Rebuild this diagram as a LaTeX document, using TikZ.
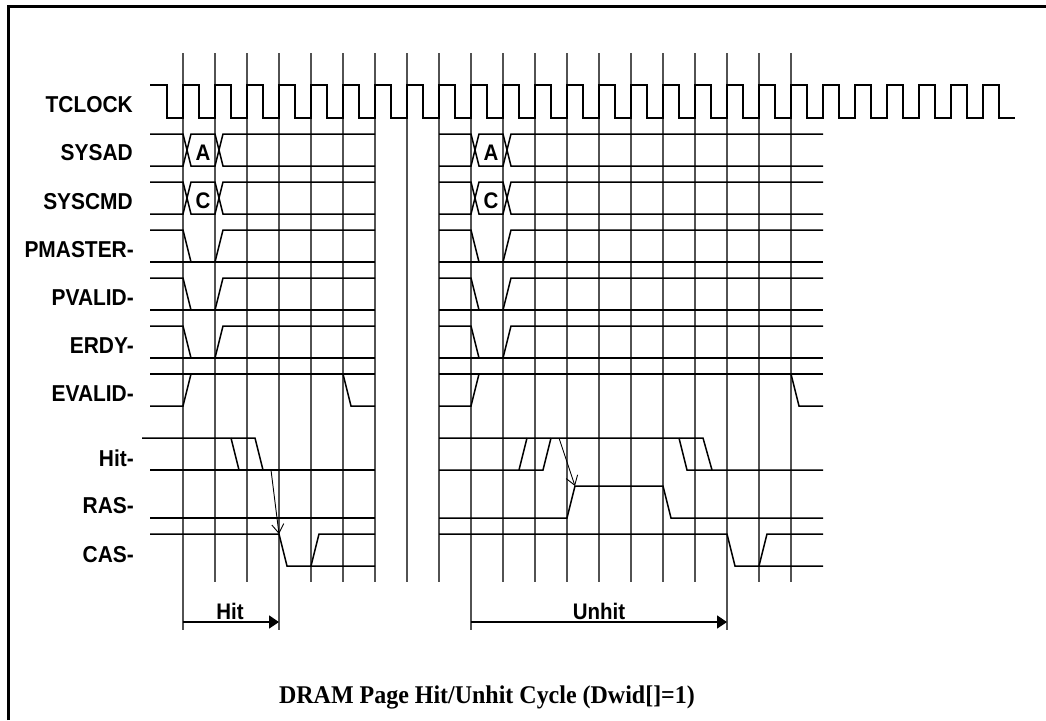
\documentclass[tikz,border=0pt]{standalone}
\usepackage{fontspec}
\setmainfont[FakeStretch=0.94]{Liberation Serif}
\setsansfont[FakeStretch=0.91]{Liberation Sans}
\usepackage{tikz}
\usetikzlibrary{arrows.meta}

\begin{document}
\begin{tikzpicture}[
  x=1pt, y=-1pt,
  every node/.style={align=center},
  gridline/.style={draw=black!68, line width=1.3pt},
  wave/.style={draw=black, line width=1.5pt, line join=miter},
  sigtag/.style={font=\sffamily\bfseries\fontsize{23}{23}\selectfont, anchor=east, inner sep=0pt},
  datatag/.style={font=\sffamily\bfseries\fontsize{22.5}{23}\selectfont, inner sep=0pt},
  cause/.style={draw=black, line width=0.9pt, -{Straight Barb[length=9pt,width=12pt,line width=0.9pt]}},
  span/.style={draw=black, line width=1.5pt, -{Triangle[length=10pt,width=13pt]}}
]
  \useasboundingbox (0,0) rectangle (1046,720);
  \draw[line width=2.6pt] (8.5,720) -- (8.5,6.5) -- (1046,6.5);

  % clock grid
  \foreach \k in {0,...,19} {
    \draw[gridline] ({183+32*\k},53) -- ({183+32*\k},582);
  }
  \draw[gridline] (183,582) -- (183,630);
  \draw[gridline] (279,582) -- (279,630);
  \draw[gridline] (471,582) -- (471,630);
  \draw[gridline] (727,582) -- (727,630);

  % tclock
  \draw[wave] (150,85) -- (167,85)
    \foreach \k in {0,...,25} {
      -- ({167+32*\k},118) -- ({183+32*\k},118) -- ({183+32*\k},85) -- ({199+32*\k},85)
    } -- (999,118) -- (1015,118);

  % signal names
  \node[sigtag] (tclock) at (133,105) {TCLOCK};
  \node[sigtag] (sysad) at (133,153) {SYSAD};
  \node[sigtag] (syscmd) at (133,202) {SYSCMD};
  \node[sigtag] (pmaster) at (134,250) {PMASTER-};
  \node[sigtag] (pvalid) at (134,298) {PVALID-};
  \node[sigtag] (erdy) at (134,346) {ERDY-};
  \node[sigtag] (evalid) at (134,394) {EVALID-};
  \node[sigtag] (hit) at (134,458) {Hit-};
  \node[sigtag] (ras) at (134,506) {RAS-};
  \node[sigtag] (cas) at (134,555) {CAS-};

  % both halves: left starts at 150, right is shifted by 288
  \foreach \s/\a/\z/\e in {0/150/375/343, 288/151/535/503} {
    \begin{scope}[xshift=\s pt]
      % sysad, syscmd
      \foreach \y/\t in {134/A, 182/C} {
        \draw[wave] (\a,\y) -- (183,\y) -- (191,\y+32) -- (215,\y+32) -- (223,\y) -- (\z,\y);
        \draw[wave] (\a,\y+32) -- (183,\y+32) -- (191,\y) -- (215,\y) -- (223,\y+32) -- (\z,\y+32);
        \node[datatag] at (203,\y+19) {\t};
      }
      % pmaster, pvalid, erdy
      \foreach \y in {230,278,326} {
        \draw[wave] (\a,\y) -- (183,\y) -- (191,\y+32);
        \draw[wave] (215,\y+32) -- (223,\y) -- (\z,\y);
        \draw[wave] (\a,\y+32) -- (\z,\y+32);
      }
      % evalid
      \draw[wave] (\a,406) -- (183,406) -- (191,374);
      \draw[wave] (\a,374) -- (\z,374);
      \draw[wave] (\e,374) -- (\e+8,406) -- (\z,406);
    \end{scope}
  }

  % hit, left half
  \draw[wave] (142,438) -- (255,438) -- (263,470);
  \draw[wave] (231,438) -- (239,470);
  \draw[wave] (150,470) -- (375,470);
  % hit, right half
  \draw[wave] (439,438) -- (703,438) -- (712,470);
  \draw[wave] (519,470) -- (527,438);
  \draw[wave] (439,470) -- (543,470) -- (551,438);
  \draw[wave] (679,438) -- (687,470) -- (823,470);

  % ras
  \draw[wave] (150,518) -- (375,518);
  \draw[wave] (439,518) -- (567,518) -- (575,486) -- (663,486) -- (671,518) -- (823,518);

  % cas
  \draw[wave] (150,534) -- (279,534) -- (287,566) -- (375,566);
  \draw[wave] (311,566) -- (319,534) -- (375,534);
  \draw[wave] (439,534) -- (727,534) -- (735,566) -- (823,566);
  \draw[wave] (759,566) -- (767,534) -- (823,534);

  % what triggers what
  \coordinate (hitfall) at (271,470);
  \coordinate (casfall) at (279,534);
  \coordinate (hitrise) at (559,438);
  \coordinate (rasrise) at (575,486);
  \draw[cause] (hitfall) -- (casfall);
  \draw[cause] (hitrise) -- (rasrise);

  % cycle lengths
  \coordinate (hitfrom) at (183,622);
  \coordinate (hitto) at (279,622);
  \coordinate (unhitfrom) at (471,622);
  \coordinate (unhitto) at (727,622);
  \draw[span] (hitfrom) -- (hitto);
  \draw[span] (unhitfrom) -- (unhitto);
  \node[datatag] (hitlabel) at (230,611) {Hit};
  \node[datatag] (unhitlabel) at (599,611) {Unhit};

  \node[font=\bfseries\fontsize{25.5}{26}\selectfont, inner sep=0pt] (title) at (487,697) {DRAM Page Hit/Unhit Cycle (Dwid[]=1)};
\end{tikzpicture}
\end{document}
